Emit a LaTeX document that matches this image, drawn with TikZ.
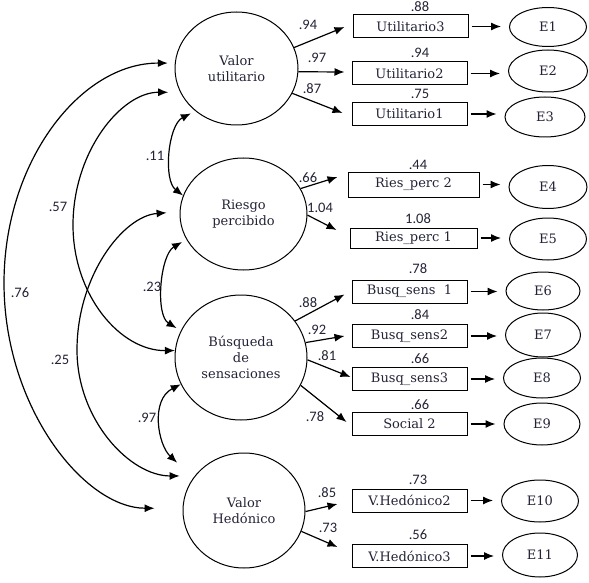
\documentclass[tikz,border=0pt]{standalone}
\usepackage{fontspec}
\setmainfont{DejaVu Serif}
\newfontfamily\numfont{Carlito}
\usetikzlibrary{arrows.meta,shapes.geometric,calc}
\definecolor{txt}{RGB}{35,35,55}
\begin{document}
\begin{tikzpicture}[x=1pt,y=-1pt,
  lat/.style={ellipse, draw, line width=1pt, align=center, inner sep=0pt, text=txt,
    font=\fontsize{13}{16}\selectfont},
  obs/.style={rectangle, draw, line width=1pt, inner sep=0pt, minimum width=115pt,
    minimum height=23pt, text=txt, font=\fontsize{13}{15}\selectfont},
  err/.style={ellipse, draw, line width=1pt, inner sep=0pt, text=txt,
    font=\fontsize{13}{15}\selectfont},
  num/.style={inner sep=0pt, text=txt, font=\numfont\fontsize{14.5}{16}\selectfont},
  arr/.style={-{Latex[length=10pt,width=8pt]}, line width=1.2pt},
  cov/.style={{Latex[length=10pt,width=8pt]}-{Latex[length=10pt,width=8pt]}, line width=1.2pt}]
\useasboundingbox (0,0) rectangle (589,583);

% latent variables
\node[lat, minimum width=123pt, minimum height=113pt] (vu) at (236.5,68.5) {Valor\\utilitario};
\node[lat, minimum width=127pt, minimum height=112pt] (rp) at (243.5,214) {Riesgo\\percibido};
\node[lat, minimum width=132pt, minimum height=125pt] (bs) at (241,357.5) {Búsqueda\\de\\sensaciones};
\node[lat, minimum width=122pt, minimum height=115pt] (vh) at (244,510.5) {Valor\\Hedónico};

% observed
\node[obs] (u3) at (410.5,26.5) {Utilitario3};
\node[obs] (u2) at (409.5,73.5) {Utilitario2};
\node[obs] (u1) at (409.5,114) {Utilitario1};
\node[obs, minimum width=131pt, minimum height=25pt] (r2) at (413.5,184.5) {Ries\_perc 2};
\node[obs, minimum width=127pt, minimum height=20pt] (r1) at (413.5,238) {Ries\_perc 1};
\node[obs] (b1) at (409.5,291.5) {Busq\_sens\ \ 1};
\node[obs] (b2) at (409.5,336) {Busq\_sens2};
\node[obs] (b3) at (409.5,379) {Busq\_sens3};
\node[obs] (s2) at (409.5,424) {Social 2};
\node[obs] (h2) at (409.5,500.5) {V.Hedónico2};
\node[obs] (h3) at (409.5,556) {V.Hedónico3};

% errors
\node[err, minimum width=77pt, minimum height=39pt] (e1) at (548,27) {E1};
\node[err, minimum width=79pt, minimum height=42pt] (e2) at (548,71) {E2};
\node[err, minimum width=80pt, minimum height=40pt] (e3) at (545,117) {E3};
\node[err, minimum width=78pt, minimum height=43pt] (e4) at (548,187) {E4};
\node[err, minimum width=77pt, minimum height=42pt] (e5) at (548,239) {E5};
\node[err, minimum width=74pt, minimum height=38pt] (e6) at (543,291) {E6};
\node[err, minimum width=75pt, minimum height=44pt] (e7) at (543,335) {E7};
\node[err, minimum width=77pt, minimum height=40pt] (e8) at (542,378) {E8};
\node[err, minimum width=76pt, minimum height=42pt] (e9) at (542,424) {E9};
\node[err, minimum width=77pt, minimum height=42pt] (e10) at (540,501) {E10};
\node[err, minimum width=75pt, minimum height=44pt] (e11) at (540,555) {E11};

% observed -> error
\foreach \o/\e in {u3/e1,u2/e2,u1/e3,r2/e4,r1/e5,b1/e6,b2/e7,b3/e8,s2/e9,h2/e10,h3/e11}
  \draw[arr, shorten <=3pt, shorten >=8pt] (\o.east) -- (\o.east -| \e.west);

% loadings
\draw[arr] (vu.20) -- ($(u3.west)+(-8,0.5)$);
\draw[arr] (vu.-3) -- ($(u2.west)+(-7,-1.5)$);
\draw[arr] (vu.-24) -- ($(u1.west)+(-9,-1)$);
\draw[arr] (rp.24) -- ($(r2.west)+(-10,-7.5)$);
\draw[arr] (rp.-1) -- ($(r1.west)+(-13,-8)$);
\draw[arr] (bs.34) -- ($(b1.west)+(-7,3)$);
\draw[arr] (bs.13) -- ($(b2.west)+(-7,0)$);
\draw[arr] (bs.-2) -- ($(b3.west)+(-1,-2)$);
\draw[arr] (bs.-25) -- ($(s2.west)+(-5,-2)$);
\draw[arr] (vh.-1) -- ($(h2.west)+(-14,3.5)$);
\draw[arr] (vh.-20) -- ($(h3.west)+(-14,-9)$);

\node[num] (l1) at (308,25) {.94};
\node[num] (l2) at (317,58) {.97};
\node[num] (l3) at (312,89) {.87};
\node[num] (l4) at (308,178) {.66};
\node[num] (l5) at (320,208) {1.04};
\node[num] (l6) at (308,303) {.88};
\node[num] (l7) at (317,330) {.92};
\node[num] (l8) at (327,356) {.81};
\node[num] (l9) at (315,417) {.78};
\node[num] (l10) at (327,493) {.85};
\node[num] (l11) at (328,528) {.73};

% R2 above boxes
\node[num] (q1) at (420,7) {.88};
\node[num] (q2) at (420,53) {.94};
\node[num] (q3) at (420,94) {.75};
\node[num] (q4) at (418,165) {.44};
\node[num] (q5) at (418,219) {1.08};
\node[num] (q6) at (418,269) {.78};
\node[num] (q7) at (420,315) {.84};
\node[num] (q8) at (420,359) {.66};
\node[num] (q9) at (420,405) {.66};
\node[num] (q10) at (418,480) {.73};
\node[num] (q11) at (418,535) {.56};

% covariances
\coordinate (c57) at (73,225);
\coordinate (c25) at (77,350);
\coordinate (c76) at (4,283);
\draw[cov, shorten <=5pt] (vu.226) .. controls (168,125) and (163,180) .. (rp.163);
\draw[cov, shorten <=5pt, shorten >=5pt] (rp.204) .. controls (160,255) and (155,315) .. (bs.156);
\draw[cov, shorten >=22pt] (bs.204) .. controls (150,400) and (158,445) .. (vh.147);
\draw[cov, shorten <=12pt] (vu.203) .. controls (121,92) and (73,152) .. (c57) .. controls (73,295) and (120,351) .. (bs.174);
\draw[cov, shorten <=13pt, shorten >=15pt] (rp.178) .. controls (123,216) and (77,276) .. (c25) .. controls (77,420) and (130,476) .. (vh.145);
\draw[cov, shorten <=7pt, shorten >=28pt] (vu.175) .. controls (80,63) and (4,162) .. (c76) .. controls (4,407) and (84,508) .. (vh.178);

\node[num] (k1) at (155,156) {.11};
\node[num] (k2) at (152,287) {.23};
\node[num] (k3) at (147,418) {.97};
\node[num] (k4) at (58,207) {.57};
\node[num] (k5) at (20,293) {.76};
\node[num] (k6) at (60,360) {.25};
\end{tikzpicture}
\end{document}
